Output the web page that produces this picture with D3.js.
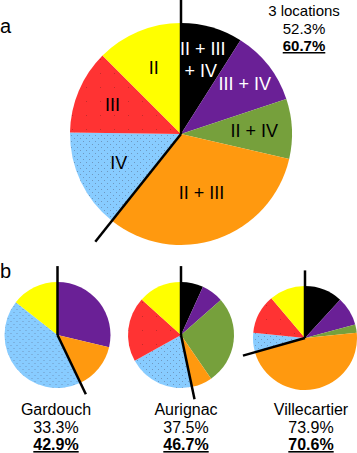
<!DOCTYPE html>
<html>
<head>
<meta charset="utf-8">
<script src="https://cdn.jsdelivr.net/npm/d3@7"></script>
<style>
  body { margin: 0; background: #fff; }
  text { font-family: "Liberation Sans", Arial, sans-serif; }
</style>
</head>
<body>
<div id="chart"></div>
<script>
// categories in clockwise order from 12 o'clock
const categories = ["II + III + IV", "III + IV", "II + IV", "II + III", "IV", "III", "II"];

// share of each category (%)
const allSites     = [9.0, 10.9, 8.7, 32.1, 14.5, 12.3, 12.5];
const gardouch     = [0, 28.7, 0, 14.2, 42.7, 0, 14.4];
const aurignac     = [6.8, 6.7, 26.9, 6.3, 20.2, 19.8, 13.3];
const villecartier = [11.8, 9.0, 2.6, 47.2, 6.0, 12.2, 11.2];

// texts
const siteNames = ["Gardouch", "Aurignac", "Villecartier"];
const plainPct  = ["33.3%", "37.5%", "73.9%"];
const boldPct   = ["42.9%", "46.7%", "70.6%"];
const mainTitle = "3 locations";
const mainPlain = "52.3%";
const mainBold  = "60.7%";

// first four categories are the multi-stage ones, split off by the black line
const splitAfter = 4;

const width = 357;
const height = 453;

const svg = d3.select("#chart")
    .append("svg")
    .attr("width", width)
    .attr("height", height);

const color = d3.scaleOrdinal()
    .domain(categories)
    .range(["#000000", "#6a2096", "#76a03c", "#ff990f", "url(#dotsBlue)", "url(#dotsRed)", "#ffff00"]);

const textColor = d3.scaleOrdinal()
    .domain(categories)
    .range(["#fff", "#fff", "#000", "#000", "#000", "#000", "#000"]);

//dotted fills for blue and red
const defs = svg.append("defs");

const pBlue = defs.append("pattern")
    .attr("id", "dotsBlue")
    .attr("patternUnits", "userSpaceOnUse")
    .attr("width", 6)
    .attr("height", 6);
pBlue.append("rect").attr("width", 6).attr("height", 6).attr("fill", "#88ccff");
pBlue.append("rect").attr("x", 1).attr("y", 4).attr("width", 1).attr("height", 1).attr("fill", "#6f98c0");
pBlue.append("rect").attr("x", 4).attr("y", 1).attr("width", 1).attr("height", 1).attr("fill", "#6f98c0");

const pRed = defs.append("pattern")
    .attr("id", "dotsRed")
    .attr("patternUnits", "userSpaceOnUse")
    .attr("width", 14)
    .attr("height", 14);
pRed.append("rect").attr("width", 14).attr("height", 14).attr("fill", "#ff3333");
pRed.append("rect").attr("x", 3).attr("y", 9).attr("width", 1).attr("height", 1).attr("fill", "#c62a2a");

const pie = d3.pie().sort(null).value(function(d) { return d.value; });

function makeData(values) {
    return categories.map(function(c, i) { return { cat: c, value: values[i] }; });
}

//draw a pie with the split lines
function drawPie(values, cx, cy, r, lineUp, lineOut) {
    const g = svg.append("g")
        .attr("transform", "translate(" + cx + "," + cy + ")");

    const arcs = pie(makeData(values));
    const arc = d3.arc().innerRadius(0).outerRadius(r);

    g.selectAll("path")
        .data(arcs)
        .enter()
        .append("path")
        .attr("d", arc)
        .attr("fill", function(d) { return color(d.data.cat); });

    //vertical line from 12 o'clock
    g.append("line")
        .attr("x1", 0).attr("y1", 0)
        .attr("x2", 0).attr("y2", -r * lineUp)
        .attr("stroke", "#000")
        .attr("stroke-width", 2.5);

    //line at the end of the multi-stage group
    const a = arcs[splitAfter - 1].endAngle;
    g.append("line")
        .attr("x1", 0).attr("y1", 0)
        .attr("x2", Math.sin(a) * r * lineOut)
        .attr("y2", -Math.cos(a) * r * lineOut)
        .attr("stroke", "#000")
        .attr("stroke-width", 2.5);

    return { g: g, arcs: arcs };
}

// ---- panel a ----
const mainR = 111;
const main = drawPie(allSites, 181, 134, mainR, 1.21, 1.24);

//label distance from centre, as share of radius
const labelR = [0.70, 0.73, 0.66, 0.56, 0.62, 0.67, 0.64];

main.g.selectAll("text.slice")
    .data(main.arcs)
    .enter()
    .append("text")
    .attr("class", "slice")
    .attr("text-anchor", "middle")
    .attr("font-size", "18px")
    .attr("fill", function(d) { return textColor(d.data.cat); })
    .each(function(d, i) {
        const rr = mainR * labelR[i];
        const c = d3.arc().innerRadius(rr).outerRadius(rr).centroid(d);
        const t = d3.select(this);
        if (d.data.cat === "II + III + IV") {
            t.append("tspan").attr("x", c[0]).attr("y", c[1] - 4).text("II + III");
            t.append("tspan").attr("x", c[0] - 2).attr("y", c[1] + 18).text("+ IV");
        } else {
            t.attr("x", c[0]).attr("y", c[1] + 6).text(d.data.cat);
        }
    });

svg.append("text")
    .attr("x", 0)
    .attr("y", 33)
    .attr("font-size", "20px")
    .text("a");

const corner = svg.append("g")
    .attr("transform", "translate(304,0)")
    .attr("text-anchor", "middle")
    .attr("font-size", "15px");

corner.append("text").attr("y", 16).text(mainTitle);
corner.append("text").attr("y", 34).text(mainPlain);
corner.append("text").attr("y", 51).attr("font-weight", "bold")
    .attr("text-decoration", "underline").text(mainBold);

// ---- panel b ----
svg.append("text")
    .attr("x", 0)
    .attr("y", 278)
    .attr("font-size", "20px")
    .text("b");

const sites = [gardouch, aurignac, villecartier];
const siteX = [57.5, 181, 305];
const siteY = [335, 335, 338];
const siteR = [53, 53, 52];
const labelX = [56, 186, 311];

sites.forEach(function(vals, i) {
    drawPie(vals, siteX[i], siteY[i], siteR[i], 1.3, 1.24);

    const t = svg.append("g")
        .attr("transform", "translate(" + labelX[i] + ",0)")
        .attr("text-anchor", "middle")
        .attr("font-size", "16px");

    t.append("text").attr("y", 415).text(siteNames[i]);
    t.append("text").attr("y", 433).text(plainPct[i]);
    t.append("text").attr("y", 450).attr("font-weight", "bold")
        .attr("text-decoration", "underline").text(boldPct[i]);
});
</script>
</body>
</html>
